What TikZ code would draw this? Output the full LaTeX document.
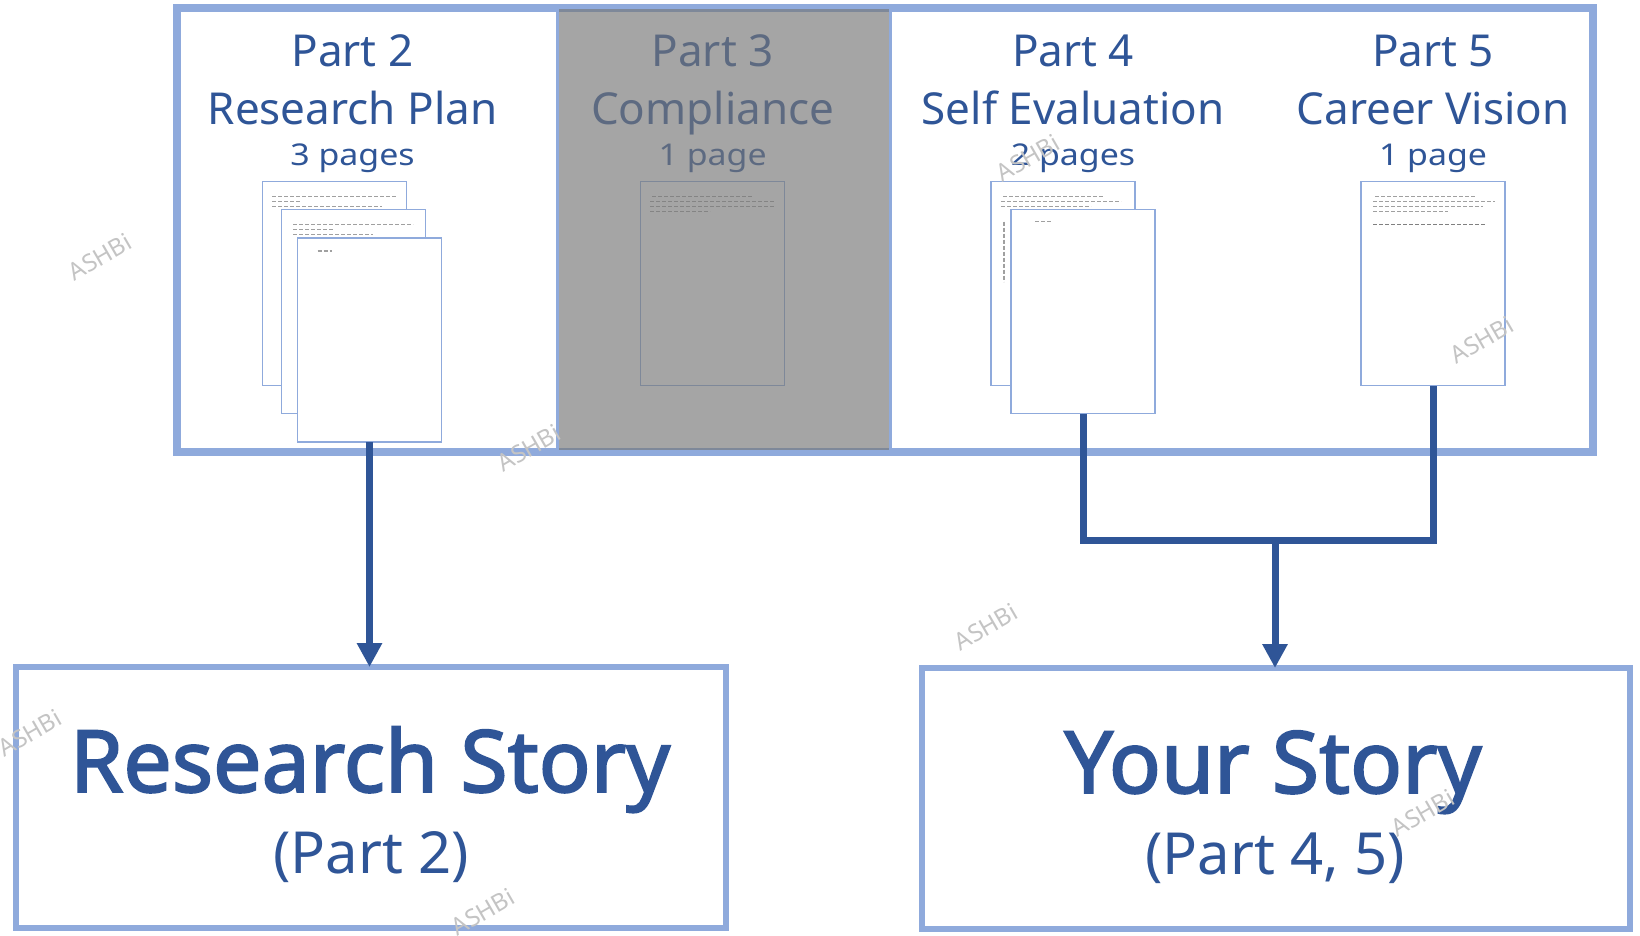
\documentclass[tikz,border=0pt]{standalone}
\usepackage{fontspec}
\setmainfont{Noto Sans}
\newfontfamily\heavyfont{Noto Sans}[FakeBold=2.2]
\usetikzlibrary{arrows.meta}
\definecolor{dblue}{HTML}{2F5597}
\definecolor{lblue}{HTML}{8FAADC}
\definecolor{wmark}{HTML}{C4C4C4}
\definecolor{scribc}{HTML}{A0A0A0}
\definecolor{panelgray}{HTML}{767676}
\begin{document}
\begin{tikzpicture}[x=1pt,y=-1pt,
  frame/.style={draw=lblue, line width=8pt, inner sep=0pt, outer sep=0pt},
  docpage/.style={draw=lblue, line width=1.6pt, fill=white, minimum width=144pt, minimum height=204pt, inner sep=0pt, outer sep=0pt},
  title/.style={text=dblue, font=\fontsize{44}{50}\selectfont, anchor=base, inner sep=0pt},
  pagecount/.style={text=dblue, font=\fontsize{30}{36}\selectfont, anchor=base, inner sep=0pt},
  bigt/.style={text=dblue, font=\heavyfont\fontsize{86}{94}\selectfont, anchor=base, inner sep=0pt},
  subt/.style={text=dblue, font=\fontsize{58}{64}\selectfont, anchor=base, inner sep=0pt},
  story/.style={draw=lblue, line width=6pt, inner sep=0pt, outer sep=0pt},
  conn/.style={draw=dblue, line width=7pt},
  tipped/.style={-{Triangle[length=24pt,width=24pt]}},
  wm/.style={text=wmark, font=\fontsize{24}{28}\selectfont, rotate=30, inner sep=0pt},
  scrib/.style={draw=scribc, line width=1.5pt, dash pattern=on 4pt off 2pt}
]
\fill[white] (0,0) rectangle (1640,936);
\useasboundingbox (0,0) rectangle (1640,936);

% top frame
\node[frame, minimum width=1416pt, minimum height=444pt] (topframe) at (885,230) {};

% Part 2
\node[title] (p2t1) at (352.5,67) {Part 2};
\node[title] (p2t2) at (352.5,125) {Research Plan};
\node[pagecount] (p2t3) at (352.5,166) {\scalebox{1.13}[1]{3 pages}};
\node[docpage] (p2a) at (334.4,283.5) {};
\draw[scrib] ([shift={(10,15)}]p2a.north west) -- ++(125,0);
\draw[scrib] ([shift={(10,20)}]p2a.north west) -- ++(28,0);
\draw[scrib] ([shift={(10,25)}]p2a.north west) -- ++(110,0);
\node[docpage] (p2b) at (353.3,311.5) {};
\draw[scrib] ([shift={(12,15)}]p2b.north west) -- ++(120,0);
\draw[scrib] ([shift={(12,20)}]p2b.north west) -- ++(40,0);
\draw[scrib] ([shift={(12,25)}]p2b.north west) -- ++(80,0);
\node[docpage] (p2c) at (369.5,340) {};
\draw[scrib] ([shift={(20,13)}]p2c.north west) -- ++(14,0);

% Part 3 (under the gray panel)
\node[title] (p3t1) at (712.6,67) {Part 3};
\node[title] (p3t2) at (712.6,125) {Compliance};
\node[pagecount] (p3t3) at (712.6,166) {\scalebox{1.13}[1]{1 page}};
\node[docpage] (p3a) at (712.4,283.5) {};
\draw[scrib] ([shift={(12,15)}]p3a.north west) -- ++(100,0);
\draw[scrib] ([shift={(10,20)}]p3a.north west) -- ++(124,0);
\draw[scrib] ([shift={(10,25)}]p3a.north west) -- ++(124,0);
\draw[scrib] ([shift={(10,30)}]p3a.north west) -- ++(60,0);

% Part 4
\node[title] (p4t1) at (1073,67) {Part 4};
\node[title] (p4t2) at (1073,125) {Self Evaluation};
\node[pagecount] (p4t3) at (1073,166) {\scalebox{1.13}[1]{2 pages}};
\node[docpage] (p4a) at (1063,283.5) {};
\draw[scrib] ([shift={(12,15)}]p4a.north west) -- ++(100,0);
\draw[scrib] ([shift={(10,20)}]p4a.north west) -- ++(120,0);
\draw[scrib] ([shift={(10,25)}]p4a.north west) -- ++(90,0);
\draw[scrib] ([shift={(13,40)}]p4a.north west) -- ++(0,60);
\node[docpage] (p4b) at (1083,311.5) {};
\draw[scrib] ([shift={(24,12)}]p4b.north west) -- ++(16,0);

% Part 5
\node[title] (p5t1) at (1433,67) {Part 5};
\node[title] (p5t2) at (1433,125) {Career Vision};
\node[pagecount] (p5t3) at (1433,166) {\scalebox{1.13}[1]{1 page}};
\node[docpage] (p5a) at (1433,283.5) {};
\draw[scrib] ([shift={(14,15)}]p5a.north west) -- ++(100,0);
\draw[scrib] ([shift={(12,20)}]p5a.north west) -- ++(122,0);
\draw[scrib] ([shift={(12,25)}]p5a.north west) -- ++(110,0);
\draw[scrib] ([shift={(12,30)}]p5a.north west) -- ++(75,0);
\draw[scrib, draw=gray] ([shift={(12,43)}]p5a.north west) -- ++(112,0);

% gray panel over Part 3
\node[fill=panelgray, fill opacity=0.65, minimum width=330pt, minimum height=441pt, inner sep=0pt, outer sep=0pt] (p3panel) at (724,229.5) {};
\draw[lblue, line width=2.6pt] ([xshift=-1.3pt]p3panel.north west) -- ([xshift=-1.3pt]p3panel.south west);
\draw[lblue, line width=2.6pt] ([xshift=1.3pt]p3panel.north east) -- ([xshift=1.3pt]p3panel.south east);

% bottom boxes
\node[story, minimum width=710pt, minimum height=261pt] (rs) at (371,797.5) {};
\node[bigt] (rst) at (370,792) {Research Story};
\node[subt] (rsp) at (371,873) {(Part 2)};
\node[story, minimum width=708pt, minimum height=261pt] (ys) at (1276,798.5) {};
\node[bigt] (yst) at (1273,793) {Your Story};
\node[subt] (ysp) at (1275,874) {(Part 4, 5)};

% connectors
\coordinate (join) at (1275,540);
\draw[conn, tipped] (p2c.south) -- (rs.north -| p2c.south);
\draw[conn] (p4b.south) -- (p4b.south |- join) -- (p5a.south |- join) -- (p5a.south);
\draw[conn, tipped] (join) -- (ys.north -| join);

% watermarks
\node[wm] (wm1) at (100,257) {ASHBi};
\node[wm] (wm2) at (529,448) {ASHBi};
\node[wm] (wm3) at (1028,158) {ASHBi};
\node[wm] (wm4) at (1482,340) {ASHBi};
\node[wm] (wm5) at (986,627) {ASHBi};
\node[wm] (wm6) at (30,733) {ASHBi};
\node[wm] (wm7) at (483,912) {ASHBi};
\node[wm] (wm8) at (1423,813) {ASHBi};
\end{tikzpicture}
\end{document}
